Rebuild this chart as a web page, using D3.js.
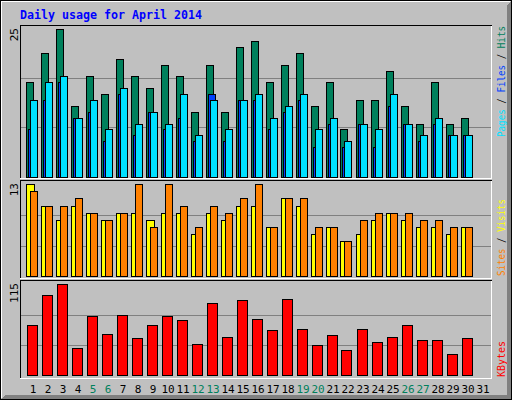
<!DOCTYPE html>
<html lang="en">
<head>
<meta charset="UTF-8">
<title>Daily usage for April 2014</title>
<script src="https://cdn.jsdelivr.net/npm/d3@7"></script>
<style>
  body { margin: 0; background: #fff; }
  text { font-family: "DejaVu Sans Mono", monospace; }
</style>
</head>
<body>
<div id="chart"></div>
<script>
  // Data
  const days = d3.range(1, 32);
  const weekends = [5, 6, 12, 13, 19, 20, 26, 27];
  const hits   = [16,21,25,12,17,14,20,17,15,19,17,11,19,11,22,23,16,19,21,12,16,8,13,13,18,12,9,16,9,10];
  const files  = [13,16,17,10,13,8,15,9,11,9,14,7,13,8,13,14,10,12,14,8,10,6,9,8,14,9,7,10,7,7];
  const pages  = [8,13,16,10,11,6,14,7,11,8,10,6,14,6,13,13,8,11,13,5,9,5,9,5,12,9,6,9,7,7];
  const sites  = [13,10,8,10,9,8,9,9,8,9,9,6,9,8,10,10,7,11,10,6,7,5,6,8,9,8,7,7,6,7];
  const visits = [12,10,10,11,9,8,9,13,7,13,10,7,10,9,11,13,7,11,11,7,7,5,8,9,9,9,8,8,7,7];
  const kbytes = [63,101,115,34,75,52,76,47,64,75,70,40,92,48,95,71,57,96,59,38,51,32,59,42,49,64,44,45,27,47];
  const maxLabels = ["25", "13", "115"];

  const c = {
    hit: "#00805c", file: "#00e0ff", page: "#0040ff",
    site: "#ffff00", visit: "#ff8000", kbyte: "#ff0000",
    bg: "#c0c0c0", grid: "#808080"
  };

  const W = 512, H = 400;
  const svg = d3.select("#chart").append("svg")
    .attr("width", W).attr("height", H)
    .attr("shape-rendering", "crispEdges");

  // Frame with bevel
  svg.append("rect").attr("x", 0.5).attr("y", 0.5).attr("width", W - 1).attr("height", H - 1)
    .attr("fill", c.bg).attr("stroke", "#000");
  svg.append("path").attr("d", `M${W - 1},1 L${W - 1},${H - 1} L1,${H - 1} L5,${H - 5} L${W - 5},${H - 5} L${W - 5},5 Z`)
    .attr("fill", "#808080");
  svg.append("path").attr("d", `M1.5,${H - 2} L1.5,1.5 L${W - 2},1.5`).attr("fill", "none").attr("stroke", "#fff");

  svg.append("text").attr("x", 20).attr("y", 19)
    .attr("font-size", 12).attr("font-weight", "bold").attr("fill", "#0000ff")
    .attr("textLength", 182).attr("lengthAdjust", "spacingAndGlyphs")
    .text("Daily usage for April 2014");

  // x position of day d (left edge of day slot)
  const x = d3.scaleLinear().domain([1, 31]).range([25.5, 25.5 + 15 * 30]);

  const panels = [
    { top: 25, base: 176.5, maxY: 29.3, max: 25 },
    { top: 180, base: 276.3, maxY: 184.3, max: 13 },
    { top: 280, base: 375.3, maxY: 284.3, max: 115 }
  ];
  panels.forEach(p => {
    p.y = d3.scaleLinear().domain([0, p.max]).range([p.base, p.maxY]);
  });

  // Panel boxes and gridlines
  panels.forEach((p, i) => {
    const bottom = i < 2 ? panels[i + 1].top - 2 : 378;
    svg.append("path").attr("d", `M20.5,${bottom} L20.5,${p.top + 0.5} L491.5,${p.top + 0.5}`)
      .attr("fill", "none").attr("stroke", "#000");
    svg.append("path").attr("d", `M491.5,${p.top + 1} L491.5,${bottom + 0.5} L20,${bottom + 0.5}`)
      .attr("fill", "none").attr("stroke", "#fff");
    [1, 2].forEach(k => {
      const gy = Math.round(p.y(p.max * k / 3)) + 0.5;
      svg.append("line").attr("x1", 21).attr("x2", 491).attr("y1", gy).attr("y2", gy)
        .attr("stroke", c.grid).attr("stroke-width", 1);
    });
    svg.append("text")
      .attr("transform", `translate(18,${p.top + 3}) rotate(-90)`)
      .attr("text-anchor", "end").attr("font-size", 11).attr("fill", "#000")
      .text(maxLabels[i]);
  });

  function bars(values, panel, off, w, color) {
    svg.append("g").selectAll("rect").data(values).enter().append("rect")
      .attr("x", (v, i) => Math.round(x(i + 1) + off) + 0.5)
      .attr("y", v => Math.round(panel.y(v)) + 0.5)
      .attr("width", w)
      .attr("height", v => Math.round(panel.y(0)) - Math.round(panel.y(v)))
      .attr("fill", color).attr("stroke", "#000");
  }

  bars(hits, panels[0], 0, 7, c.hit);
  bars(pages, panels[0], 2, 7, c.page);
  bars(files, panels[0], 4, 7, c.file);
  bars(sites, panels[1], 0, 8, c.site);
  bars(visits, panels[1], 4, 7, c.visit);
  bars(kbytes, panels[2], 1, 10, c.kbyte);

  // Day labels
  svg.append("g").selectAll("text").data(days).enter().append("text")
    .attr("x", d => x(d) + 7.5).attr("y", 393)
    .attr("text-anchor", "middle").attr("font-size", 11)
    .attr("fill", d => weekends.includes(d) ? c.hit : "#000")
    .text(d => d);

  // Right side rotated legends
  function legend(parts, yEnd, len) {
    const t = svg.append("text")
      .attr("transform", `translate(505,${yEnd}) rotate(-90)`)
      .attr("font-size", 11)
      .attr("textLength", len).attr("lengthAdjust", "spacingAndGlyphs");
    parts.forEach(([s, col]) => t.append("tspan").attr("fill", col).text(s));
  }
  legend([["Pages", c.file], [" / ", "#000"], ["Files", c.page], [" / ", "#000"], ["Hits", c.hit]], 137, 111);
  legend([["Sites", c.visit], [" / ", "#000"], ["Visits", c.site]], 276, 77);
  legend([["KBytes", c.kbyte]], 377, 36);
</script>
</body>
</html>
